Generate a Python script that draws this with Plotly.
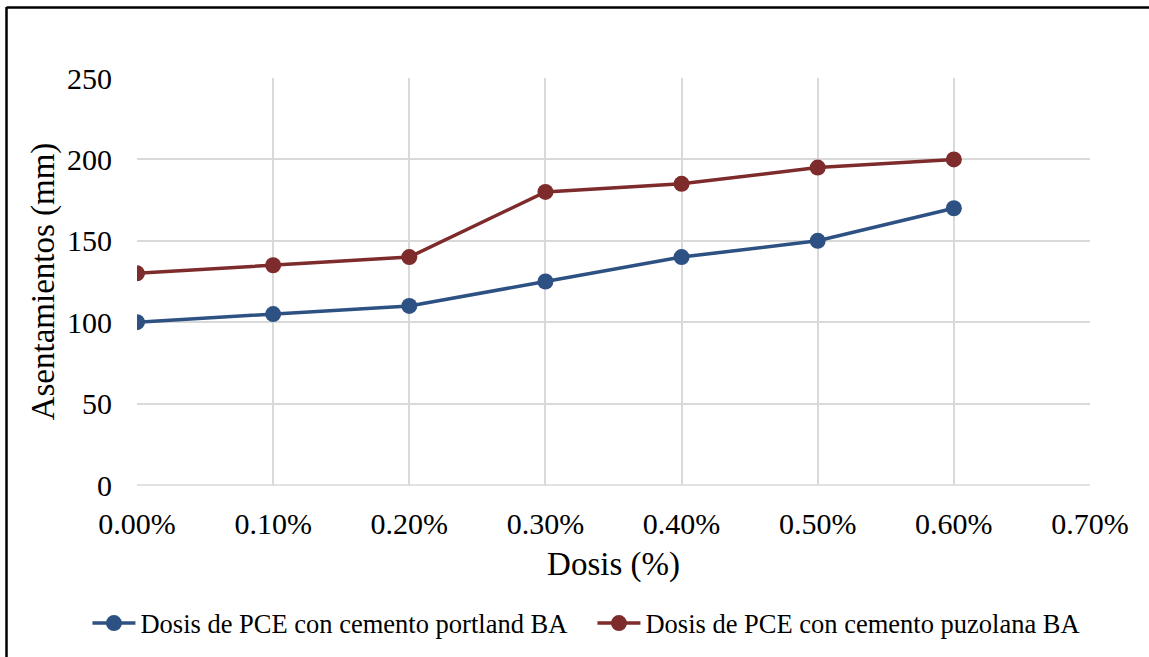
import plotly.graph_objects as go

dosis = [0.000, 0.001, 0.002, 0.003, 0.004, 0.005, 0.006]
portland = [100, 105, 110, 125, 140, 150, 170]
puzolana = [130, 135, 140, 180, 185, 195, 200]
names = ["Dosis de PCE con cemento portland BA", "Dosis de PCE con cemento puzolana BA"]
colors = ["#2E5183", "#7D2B2B"]

FONT = "Liberation Serif, Times New Roman, serif"

fig = go.Figure()
for yv, nm, c in zip([portland, puzolana], names, colors):
    fig.add_trace(go.Scatter(
        x=dosis, y=yv, name=nm, mode="lines+markers",
        line=dict(color=c, width=3.5),
        marker=dict(color=c, size=16),
    ))

fig.update_layout(
    width=1149, height=657,
    margin=dict(l=137, r=59, t=78, b=172, autoexpand=False),
    paper_bgcolor="white", plot_bgcolor="white",
    font=dict(family=FONT, color="black", size=30),
    showlegend=True,
    legend=dict(orientation="h", x=-0.052, xanchor="left", y=-0.34, yanchor="middle",
                font=dict(size=26.5, family=FONT), itemwidth=43, entrywidth=447,
                tracegroupgap=0),
    xaxis=dict(range=[0, 0.007], dtick=0.001, tick0=0, tickformat=".2%",
               showgrid=True, gridcolor="#D9D9D9", gridwidth=1.5,
               zeroline=False, showline=False, automargin=False,
               ticks="outside", ticklen=12, tickcolor="rgba(0,0,0,0)",
               tickfont=dict(size=30, family=FONT),
               title=dict(text="Dosis (%)", font=dict(size=33, family=FONT), standoff=12)),
    yaxis=dict(range=[0, 250], dtick=50, tick0=0,
               showgrid=True, gridcolor="#D9D9D9", gridwidth=1.5,
               zeroline=False, showline=False, automargin=False,
               ticks="outside", ticklen=18, tickcolor="rgba(0,0,0,0)",
               tickfont=dict(size=30, family=FONT),
               title=dict(text="Asentamientos (mm)", font=dict(size=33, family=FONT), standoff=2)),
    shapes=[
        dict(type="line", xref="paper", yref="paper", x0=0, x1=1, y0=0, y1=0,
             line=dict(color="#D9D9D9", width=1.5), layer="below"),
        dict(type="line", xref="paper", yref="paper",
             x0=(6.5 - 137) / 953, x1=(6.5 - 137) / 953,
             y0=(485 - 7) / 407, y1=(485 - 700) / 407,
             line=dict(color="black", width=2.5)),
        dict(type="line", xref="paper", yref="paper",
             x0=(6.5 - 137) / 953, x1=(1160 - 137) / 953,
             y0=(485 - 7.5) / 407, y1=(485 - 7.5) / 407,
             line=dict(color="black", width=2.5)),
    ],
)

fig.write_html("out.html")
